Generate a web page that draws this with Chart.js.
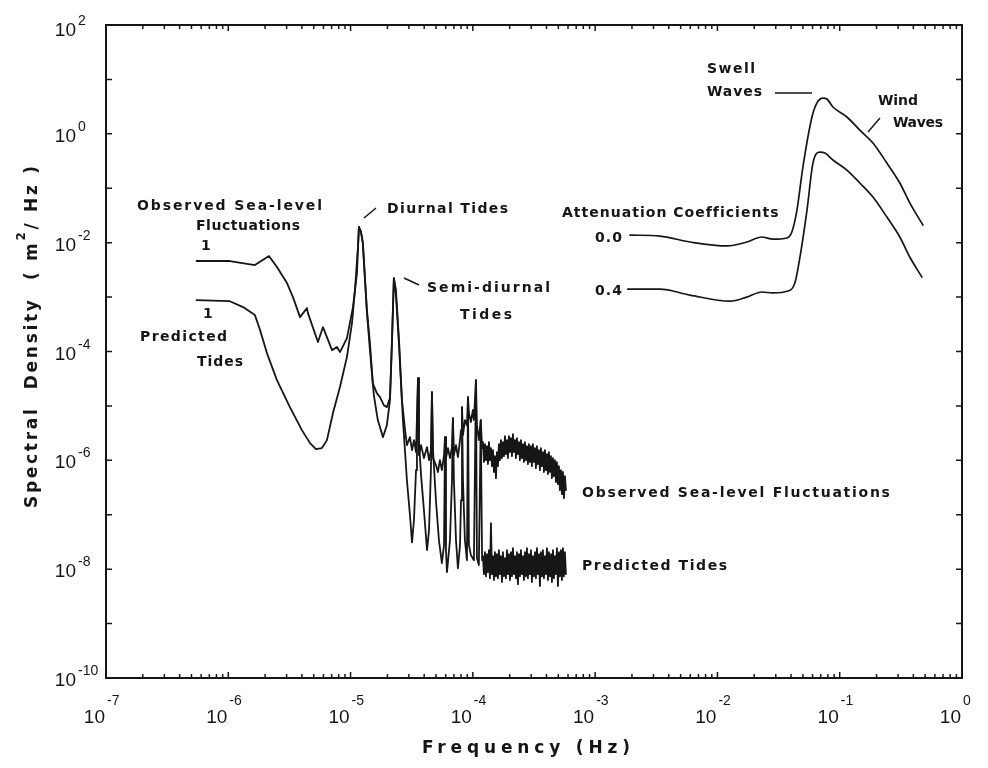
<!DOCTYPE html>
<html><head><meta charset="utf-8">
<script src="https://cdn.jsdelivr.net/npm/chart.js@4/dist/chart.umd.min.js"></script>
<style>html,body{margin:0;padding:0;background:#fff}canvas{display:block}</style>
</head><body>
<canvas id="c" width="988" height="768"></canvas>
<script>
// ---------- data (frequency in Hz, spectral density in m^2/Hz) ----------
const obsFreq = [5.5e-7,1.03e-6,1.65e-6,2.15e-6,2.50e-6,3.02e-6,3.38e-6,3.86e-6,4.40e-6,4.48e-6,5.41e-6,5.95e-6,7.05e-6,7.74e-6,8.19e-6,9.34e-6,1.046e-5,1.128e-5,1.17e-5,1.216e-5,1.26e-5,1.36e-5,1.44e-5,1.52e-5,1.64e-5,1.74e-5,1.87e-5,1.98e-5,2.1e-5,2.18e-5,2.26e-5,2.35e-5,2.49e-5,2.63e-5,
  2.79e-5,2.89e-5,3.06e-5,3.18e-5,3.30e-5,3.43e-5,3.56e-5,3.62e-5,3.77e-5,3.98e-5,4.22e-5,4.38e-5,4.54e-5,4.63e-5,4.72e-5,4.99e-5,5.18e-5,5.38e-5,5.58e-5,5.81e-5,5.92e-5,6.03e-5,6.26e-5,6.5e-5,6.75e-5,6.87e-5,7.0e-5,7.28e-5,7.55e-5,7.85e-5,8.0e-5,8.15e-5,8.3e-5,8.61e-5,8.95e-5,9.12e-5,9.29e-5,9.64e-5,1.0e-4,1.02e-4,1.06e-4,1.08e-4,1.12e-4,1.16e-4,1.19e-4];
const obsDensity = [4.6e-3,4.6e-3,3.87e-3,5.67e-3,3.56e-3,1.81e-3,1.0e-3,4.29e-4,6.28e-4,5.08e-4,1.49e-4,2.81e-4,1.06e-4,1.21e-4,9.75e-5,1.76e-4,6.55e-4,2.76e-3,1.94e-2,1.6e-2,9.8e-3,5.8e-4,1.43e-4,2.6e-5,1.72e-5,1.45e-5,1.03e-5,9.5e-6,1.39e-5,1.43e-4,2.23e-3,1.35e-3,1.62e-4,1.28e-5,
  3.6e-6,1.9e-6,2.67e-6,1.54e-6,2.35e-6,1.42e-6,3.24e-5,1.25e-6,1.9e-6,1.1e-6,1.75e-6,1.01e-6,1.54e-6,1.79e-5,1.1e-6,8.2e-7,6.1e-7,1.01e-6,6.6e-7,1.25e-6,2.67e-6,1.1e-6,1.68e-6,1.1e-6,1.75e-6,5.97e-6,1.25e-6,1.9e-6,1.15e-6,2.35e-6,3.6e-6,9.5e-6,2.9e-6,5.5e-6,4.4e-6,1.45e-5,7.4e-6,5.04e-6,8.4e-6,5.5e-6,2.98e-5,4.4e-6,2.35e-6,5.5e-6,1.68e-6];

const predFreq = [5.5e-7,1.03e-6,1.32e-6,1.65e-6,1.82e-6,2.07e-6,2.50e-6,3.19e-6,4.00e-6,4.66e-6,5.21e-6,5.83e-6,6.41e-6,7.18e-6,8.19e-6,9.34e-6,1.027e-5,1.086e-5,1.149e-5,1.17e-5,1.216e-5,1.26e-5,1.36e-5,1.44e-5,1.55e-5,1.67e-5,1.84e-5,1.98e-5,2.1e-5,2.18e-5,2.26e-5,2.35e-5,2.49e-5,2.68e-5,2.89e-5,3.06e-5,3.18e-5,3.30e-5,3.43e-5,3.49e-5,3.56e-5,3.62e-5,3.77e-5,3.98e-5,4.22e-5,4.38e-5,4.54e-5,4.63e-5,4.72e-5,4.99e-5,5.28e-5,5.58e-5,5.81e-5,5.92e-5,6.03e-5,6.14e-5,6.5e-5,6.75e-5,6.87e-5,7.0e-5,7.28e-5,7.55e-5,7.85e-5,8.0e-5,8.15e-5,8.3e-5,8.61e-5,8.95e-5,9.12e-5,9.29e-5,9.64e-5,1.02e-4,1.06e-4,1.08e-4,1.12e-4,1.16e-4,1.19e-4];
const predDensity = [8.8e-4,8.4e-4,6.55e-4,4.67e-4,2.47e-4,9.35e-5,2.98e-5,9.5e-6,3.59e-6,2.07e-6,1.61e-6,1.68e-6,2.35e-6,7.4e-6,2.22e-5,7.9e-5,3.33e-4,1.35e-3,8.3e-3,1.94e-2,1.6e-2,9.8e-3,5.3e-4,1.06e-4,1.58e-5,5.5e-6,2.67e-6,4.4e-6,1.28e-5,1.62e-4,2.23e-3,1.09e-3,1.31e-4,5.5e-6,4.3e-7,9.8e-8,3.1e-8,8.0e-8,6.6e-7,3.6e-6,3.24e-5,2.35e-6,5.3e-7,1.22e-7,2.23e-8,5.2e-8,6.6e-7,1.79e-5,1.54e-6,1.85e-7,3.4e-8,1.29e-8,2.76e-8,2.67e-6,2.23e-8,8.8e-9,3.4e-8,4.3e-7,5.97e-6,4.3e-7,3.4e-8,1.04e-8,2.76e-8,1.85e-7,9.5e-6,4.3e-7,3.4e-8,1.46e-8,1.45e-5,2.76e-8,1.81e-8,1.46e-8,2.98e-5,1.59e-8,1.19e-8,5.5e-6,1.46e-8];

// high-frequency noisy band (shared frequencies)
const bandFreq = [1.209e-4,1.232e-4,1.256e-4,1.280e-4,1.304e-4,1.329e-4,1.354e-4,1.380e-4,1.406e-4,1.433e-4,
  1.460e-4,1.488e-4,1.516e-4,1.545e-4,1.574e-4,1.604e-4,1.634e-4,1.665e-4,1.697e-4,1.729e-4,
  1.762e-4,1.796e-4,1.830e-4,1.865e-4,1.900e-4,1.936e-4,1.973e-4,2.011e-4,2.049e-4,2.088e-4,
  2.127e-4,2.168e-4,2.209e-4,2.251e-4,2.293e-4,2.337e-4,2.381e-4,2.426e-4,2.472e-4,2.519e-4,
  2.568e-4,2.616e-4,2.666e-4,2.717e-4,2.768e-4,2.821e-4,2.874e-4,2.929e-4,2.985e-4,3.041e-4,
  3.099e-4,3.158e-4,3.218e-4,3.279e-4,3.342e-4,3.405e-4,3.470e-4,3.536e-4,3.603e-4,3.671e-4,
  3.741e-4,3.812e-4,3.885e-4,3.959e-4,4.034e-4,4.110e-4,4.188e-4,4.268e-4,4.349e-4,4.432e-4,
  4.516e-4,4.602e-4,4.689e-4,4.778e-4,4.869e-4,4.962e-4,5.056e-4,5.152e-4,5.250e-4,5.350e-4,
  5.451e-4,5.555e-4,5.660e-4,5.768e-4];
const obsBandDensity = [2.16e-6,9.3e-7,1.99e-6,1.01e-6,1.82e-6,8.5e-7,2.16e-6,1.01e-6,1.68e-6,7.8e-7,
  1.54e-6,6.1e-7,1.19e-6,4.7e-7,1.42e-6,7.8e-7,1.99e-6,1.01e-6,2.35e-6,1.10e-6,
  2.16e-6,1.19e-6,2.79e-6,1.30e-6,2.35e-6,1.10e-6,2.79e-6,1.42e-6,2.56e-6,1.19e-6,
  3.03e-6,1.42e-6,2.35e-6,1.10e-6,2.56e-6,1.30e-6,2.16e-6,1.01e-6,2.35e-6,1.10e-6,
  1.99e-6,9.3e-7,2.16e-6,1.01e-6,1.82e-6,8.5e-7,1.99e-6,9.3e-7,1.82e-6,7.8e-7,
  1.99e-6,9.3e-7,1.68e-6,7.2e-7,1.82e-6,8.5e-7,1.54e-6,6.6e-7,1.68e-6,7.8e-7,
  1.42e-6,6.1e-7,1.54e-6,6.6e-7,1.30e-6,5.6e-7,1.42e-6,6.1e-7,1.19e-6,4.7e-7,
  1.10e-6,5.1e-7,1.01e-6,4.0e-7,9.3e-7,3.65e-7,7.8e-7,2.83e-7,6.6e-7,2.39e-7,
  6.1e-7,2.02e-7,5.1e-7,2.83e-7];
const predBandDensity = [1.73e-8,8.1e-9,2.05e-8,7.4e-9,1.89e-8,8.8e-9,2.23e-8,6.8e-9,7.0e-8,8.1e-9,
  1.73e-8,6.3e-9,2.05e-8,7.4e-9,1.89e-8,6.8e-9,2.23e-8,8.1e-9,1.73e-8,5.8e-9,
  2.05e-8,7.4e-9,1.59e-8,6.8e-9,2.23e-8,8.1e-9,1.89e-8,6.3e-9,2.05e-8,7.4e-9,
  2.43e-8,8.1e-9,1.73e-8,6.8e-9,2.05e-8,5.3e-9,1.89e-8,7.4e-9,2.23e-8,8.1e-9,
  1.73e-8,6.3e-9,2.05e-8,7.4e-9,2.43e-8,6.8e-9,1.89e-8,8.1e-9,2.23e-8,5.8e-9,
  1.73e-8,7.4e-9,2.05e-8,6.8e-9,2.43e-8,8.1e-9,1.89e-8,4.9e-9,2.05e-8,7.4e-9,
  2.23e-8,6.8e-9,1.73e-8,8.1e-9,2.43e-8,6.3e-9,2.05e-8,7.4e-9,1.89e-8,5.8e-9,
  2.23e-8,6.8e-9,1.73e-8,8.1e-9,2.43e-8,4.9e-9,2.05e-8,7.4e-9,2.23e-8,6.3e-9,
  2.43e-8,7.4e-9,2.05e-8,8.1e-9];

// wave band, attenuation coefficient 0.0 and 0.4
const atten00Freq = [1.93e-3,3.39e-3,5.96e-3,1.2e-2,1.74e-2,2.31e-2,2.84e-2,3.7e-2,4.06e-2,4.47e-2,5.0e-2,5.93e-2,6.5e-2,7.3e-2,7.86e-2,8.8e-2,0.1145,0.146,0.187,0.243,0.31,0.375,0.479];
const atten00Density = [1.38e-2,1.32e-2,1.03e-2,8.7e-3,1.03e-2,1.27e-2,1.16e-2,1.22e-2,1.57e-2,3.97e-2,0.245,2.04,3.68,4.55,4.36,3.11,2.04,1.17,0.678,0.29,0.125,0.0535,0.0211];
const atten04Freq = [1.85e-3,3.39e-3,5.96e-3,1.27e-2,1.74e-2,2.31e-2,2.84e-2,3.77e-2,4.3e-2,4.73e-2,5.4e-2,6.04e-2,6.89e-2,7.57e-2,8.8e-2,0.1145,0.146,0.187,0.243,0.31,0.375,0.47];
const atten04Density = [1.40e-3,1.40e-3,1.09e-3,8.4e-4,1.0e-3,1.24e-3,1.19e-3,1.29e-3,1.81e-3,5.4e-3,3.97e-2,0.29,0.462,0.443,0.33,0.216,0.125,0.0689,0.0296,0.0127,5.4e-3,2.33e-3];

const xTickExponents = [-7,-6,-5,-4,-3,-2,-1,0];
const yTickExponents = [2,0,-2,-4,-6,-8,-10];

// ---------- rendering ----------
const INK = '#161616';
const pts = (f, d) => f.map((x, i) => ({x, y: d[i]}));
const LBL = '"DejaVu Sans", sans-serif';
const NUM = '"Liberation Sans", Arial, sans-serif';

function fit(ctx, text, left, right, cy, font) {
  ctx.font = font; ctx.letterSpacing = '0px';
  const w = ctx.measureText(text).width;
  const ls = text.length > 1 ? ((right - left) - w) / (text.length - 1) : 0;
  ctx.letterSpacing = ls.toFixed(2) + 'px';
  ctx.textAlign = 'left'; ctx.textBaseline = 'middle';
  ctx.fillText(text, left, cy);
  ctx.letterSpacing = '0px';
}

function pow10(ctx, x, y, exp, exX, exY) {
  ctx.letterSpacing = '0px';
  ctx.font = '19px ' + NUM; ctx.textAlign = 'right'; ctx.textBaseline = 'alphabetic';
  ctx.fillText('10', x, y);
  ctx.font = '14px ' + NUM; ctx.textAlign = 'left';
  ctx.fillText(String(exp), exX, exY);
}

const decor = {
  id: 'decor',
  afterDatasetsDraw(chart) {
    const {ctx, chartArea: a, scales: {x, y}} = chart;
    ctx.save();
    ctx.strokeStyle = INK; ctx.fillStyle = INK;
    ctx.lineWidth = 2;
    ctx.strokeRect(a.left, a.top, a.right - a.left, a.bottom - a.top);
    ctx.lineWidth = 1.5;
    ctx.beginPath();
    for (let e = -7; e < 0; e++) {
      for (let m = 1; m < 10; m++) {
        if (e === -7 && m === 1) continue;
        const px = x.getPixelForValue(m * Math.pow(10, e));
        const len = m === 1 ? 6 : 4;
        ctx.moveTo(px, a.bottom); ctx.lineTo(px, a.bottom - len);
        ctx.moveTo(px, a.top); ctx.lineTo(px, a.top + len);
      }
    }
    for (let e = -9; e <= 1; e++) {
      const py = y.getPixelForValue(Math.pow(10, e));
      ctx.moveTo(a.left, py); ctx.lineTo(a.left + 6, py);
      ctx.moveTo(a.right, py); ctx.lineTo(a.right - 6, py);
    }
    ctx.stroke();

    // tick labels
    xTickExponents.forEach(e => {
      const px = x.getPixelForValue(Math.pow(10, e));
      pow10(ctx, px - 1, 723, e, px + 1, 705);
    });
    yTickExponents.forEach(e => {
      const py = y.getPixelForValue(Math.pow(10, e));
      const off = e === 2 ? 3 : 0;
      pow10(ctx, 76, py + 8 + off, e, 78, py - 3 + off);
    });

    // axis titles
    fit(ctx, 'Frequency (Hz)', 422, 630, 749, 'bold 17px ' + LBL);
    ctx.save();
    ctx.translate(37, 508); ctx.rotate(-Math.PI / 2);
    {
      const f = 'bold 17px ' + LBL, fs = 'bold 12px ' + LBL;
      const p1 = 'Spectral  Density  ( m', p2 = '2', p3 = '/ Hz )';
      ctx.letterSpacing = '0px';
      ctx.font = f; const w1 = ctx.measureText(p1).width, w3 = ctx.measureText(p3).width;
      ctx.font = fs; const w2 = ctx.measureText(p2).width;
      const n = p1.length + p2.length + p3.length;
      const ls = (342 - (w1 + w2 + w3)) / (n - 1);
      ctx.letterSpacing = ls.toFixed(2) + 'px';
      ctx.textAlign = 'left'; ctx.textBaseline = 'alphabetic';
      ctx.font = f; ctx.fillText(p1, 0, 0); let cx = ctx.measureText(p1).width;
      ctx.font = fs; ctx.fillText(p2, cx, -12); cx += ctx.measureText(p2).width;
      ctx.font = f; ctx.fillText(p3, cx, 0);
      ctx.letterSpacing = '0px';
    }
    ctx.restore();

    // annotations
    const F = 'bold 14px ' + LBL;
    fit(ctx, 'Observed Sea-level', 137, 322, 206, F);
    fit(ctx, 'Fluctuations', 196, 300, 226, F);
    fit(ctx, '1', 201, 209, 246, F);
    fit(ctx, '1', 203, 211, 314, F);
    fit(ctx, 'Predicted', 140, 227, 337, F);
    fit(ctx, 'Tides', 197, 243, 362, F);
    fit(ctx, 'Diurnal Tides', 387, 508, 209, F);
    fit(ctx, 'Semi-diurnal', 427, 550, 288, F);
    fit(ctx, 'Tides', 460, 512, 315, F);
    fit(ctx, 'Attenuation Coefficients', 562, 777, 213, F);
    fit(ctx, '0.0', 595, 622, 238, F);
    fit(ctx, '0.4', 595, 622, 291, F);
    fit(ctx, 'Swell', 707, 755, 69, F);
    fit(ctx, 'Waves', 707, 762, 92, F);
    fit(ctx, 'Wind', 878, 918, 101, F);
    fit(ctx, 'Waves', 893, 943, 123, F);
    fit(ctx, 'Observed Sea-level Fluctuations', 582, 890, 493, F);
    fit(ctx, 'Predicted Tides', 582, 727, 566, F);

    // leader lines
    ctx.lineWidth = 1.5;
    ctx.beginPath();
    ctx.moveTo(364, 218); ctx.lineTo(376, 208);
    ctx.moveTo(404, 278); ctx.lineTo(419, 285);
    ctx.moveTo(775, 93); ctx.lineTo(812, 93);
    ctx.moveTo(868, 132); ctx.lineTo(880, 118);
    ctx.stroke();
    ctx.restore();
  }
};

const line = (data, smooth, w) => ({
  data, showLine: true, borderColor: INK, borderWidth: w || 1.7, pointRadius: 0,
  borderJoinStyle: 'round', borderCapStyle: 'round',
  tension: 0, cubicInterpolationMode: smooth ? 'monotone' : 'default'
});

new Chart(document.getElementById('c'), {
  type: 'scatter',
  data: {
    datasets: [
      line(pts(obsFreq.concat(bandFreq), obsDensity.concat(obsBandDensity)), false, 1.8),
      line(pts(predFreq.concat(bandFreq), predDensity.concat(predBandDensity)), false, 1.8),
      line(pts(atten00Freq, atten00Density), true),
      line(pts(atten04Freq, atten04Density), true)
    ]
  },
  options: {
    responsive: false, animation: false, devicePixelRatio: 1,
    layout: {padding: {left: 106, right: 26, top: 25, bottom: 90}},
    plugins: {legend: {display: false}, tooltip: {enabled: false}},
    scales: {
      x: {type: 'logarithmic', min: 1e-7, max: 1, display: false},
      y: {type: 'logarithmic', min: 1e-10, max: 100, display: false}
    }
  },
  plugins: [decor]
});
</script>
</body></html>
